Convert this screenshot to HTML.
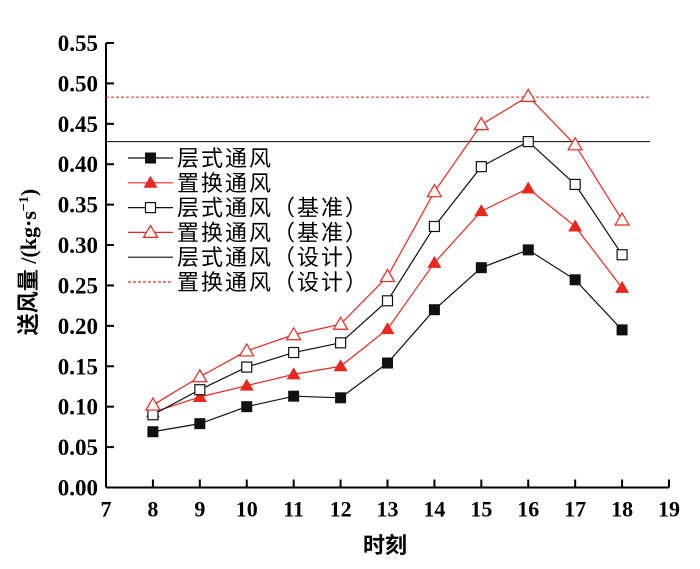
<!DOCTYPE html>
<html><head><meta charset="utf-8"><style>
body{margin:0;background:#fff;}
svg text{font-family:"Liberation Serif","Noto Serif CJK SC",serif;}
.cjk{font-family:"Liberation Sans","Noto Sans CJK SC",sans-serif;}
.wq{font-family:"WenQuanYi Zen Hei","Noto Sans CJK SC",sans-serif;}
</style></head><body>
<svg id="c" width="700" height="564" viewBox="0 0 700 564">
<g id="axes"></g><g id="series"></g><g id="legend"></g>
<text class="cjk" x="385" y="553" font-size="22" text-anchor="middle" font-weight="bold">时刻</text>
<text x="0" y="0" font-size="22" font-weight="bold" text-anchor="middle" transform="translate(36,262) rotate(-90)"><tspan class="cjk">送风量</tspan> /(kg·s<tspan font-size="14" dy="-8">−1</tspan><tspan dy="8">)</tspan></text>
</svg>
<script>
const xTicks=[7,8,9,10,11,12,13,14,15,16,17,18,19];
const yTicks=["0.00","0.05","0.10","0.15","0.20","0.25","0.30","0.35","0.40","0.45","0.50","0.55"];
const hours=[8,9,10,11,12,13,14,15,16,17,18];
const layered=[0.069,0.079,0.100,0.113,0.111,0.154,0.220,0.272,0.294,0.257,0.195];
const displacement=[0.093,0.112,0.126,0.140,0.150,0.196,0.278,0.342,0.370,0.323,0.247];
const layeredBase=[0.090,0.121,0.149,0.167,0.179,0.231,0.323,0.397,0.428,0.375,0.288];
const displacementBase=[0.102,0.137,0.169,0.189,0.202,0.261,0.366,0.449,0.484,0.424,0.331];
const layeredDesign=0.428;
const displacementDesign=0.483;
const NS="http://www.w3.org/2000/svg";
const X0=106,X1=669,Y0=487.5,Y1=43;
const xs=v=>X0+(v-7)*(X1-X0)/12;
const ys=v=>Y0-v*(Y0-Y1)/0.55;
function mk(tag,attrs,parent){const e=document.createElementNS(NS,tag);for(const k in attrs)e.setAttribute(k,attrs[k]);parent.appendChild(e);return e;}
const ax=document.getElementById('axes');
let l=mk('line',{x1:X0,y1:Y0,x2:X1,y2:Y0,stroke:'#000','stroke-width':2},ax);


l=mk('line',{x1:X0,y1:Y0,x2:X0,y2:Y1,stroke:'#000','stroke-width':2},ax);


xTicks.forEach(t=>{
 mk('line',{x1:xs(t),y1:Y0,x2:xs(t),y2:Y0-8,stroke:'#000','stroke-width':2},ax);
 const tx=mk('text',{x:xs(t),y:Y0+29,'font-size':22,'font-weight':'bold','text-anchor':'middle'},ax);
 tx.textContent=t;
 
 
});
yTicks.forEach(t=>{
 const v=parseFloat(t);
 mk('line',{x1:X0,y1:ys(v),x2:X0+8,y2:ys(v),stroke:'#000','stroke-width':2},ax);
 const tx=mk('text',{x:X0-8,y:ys(v)+8,'font-size':23,'font-weight':'bold','text-anchor':'end'},ax);
 tx.textContent=t;
 
 
});
const sg=document.getElementById('series');
l=mk('line',{x1:X0,y1:ys(layeredDesign),x2:650,y2:ys(layeredDesign),stroke:'#000','stroke-width':1},sg);


l=mk('line',{x1:X0,y1:ys(displacementDesign),x2:650,y2:ys(displacementDesign),stroke:'#e8281e','stroke-width':1,'stroke-dasharray':'3,2'},sg);


function marker(type,x,y,g){
 if(type=='sq')return mk('rect',{x:x-5.5,y:y-5.5,width:11,height:11,fill:'#111'},g);
 if(type=='osq')return mk('rect',{x:x-5,y:y-5,width:10,height:10,fill:'#fff',stroke:'#111','stroke-width':1.2},g);
 if(type=='tri')return mk('polygon',{points:`${x},${y-7} ${x+7},${y+5} ${x-7},${y+5}`,fill:'#e8281e'},g);
 return mk('polygon',{points:`${x},${y-7} ${x+7},${y+5} ${x-7},${y+5}`,fill:'#fff',stroke:'#e8281e','stroke-width':1.2},g);
}
const defs=[[layered,'#111','sq','layered-series'],[displacement,'#e8281e','tri','displacement-series'],[layeredBase,'#111','osq','layered-base-series'],[displacementBase,'#e8281e','otri','displacement-base-series']];
defs.forEach(([vals,col,m,name])=>{
 const g=mk('g',{},sg);
 
 
 mk('polyline',{points:vals.map((v,i)=>xs(hours[i])+','+ys(v)).join(' '),fill:'none',stroke:col,'stroke-width':1.2},g);
 vals.forEach((v,i)=>{const p=marker(m,xs(hours[i]),ys(v),g);
  
  });
});
const lg=document.getElementById('legend');
const items=[['层式通风','#111','sq',''],['置换通风','#e8281e','tri',''],['层式通风（基准）','#111','osq',''],['置换通风（基准）','#e8281e','otri',''],['层式通风（设计）','#111','',''],['置换通风（设计）','#e8281e','','3,2']];
items.forEach((it,i)=>{
 const y=158+i*24.8;
 const g=mk('g',{},lg);
 
 
 mk('line',{x1:128,y1:y,x2:173,y2:y,stroke:it[1],'stroke-width':1.2,'stroke-dasharray':it[3]||'none'},g);
 if(it[2])marker(it[2],150.5,y,g);
 const t=mk('text',{x:177,y:y+8,'font-size':22,'letter-spacing':2,'class':'wq'},g);
 t.textContent=it[0];
});
</script>
</body></html>
